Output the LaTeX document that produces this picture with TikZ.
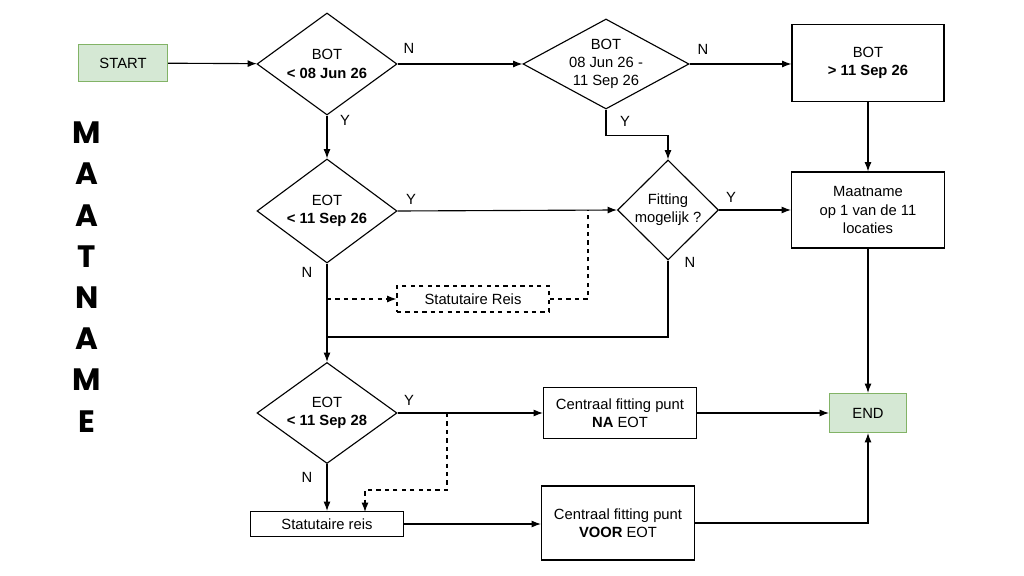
\documentclass[tikz,border=0pt]{standalone}
\usepackage{fontspec}
\setmainfont{Liberation Sans}
\newfontfamily\headfont{Poppins}
\usetikzlibrary{arrows.meta,shapes.geometric,positioning}
\definecolor{TermGreen}{RGB}{213,232,212}
\definecolor{TermEdge}{RGB}{130,179,102}

\begin{document}
\begin{tikzpicture}[x=0.025cm,y=-0.025cm,>=Latex,
  font=\fontsize{10.5}{13}\selectfont,
  box/.style={draw,line width=0.8pt,align=center,inner sep=2pt},
  term/.style={box,fill=TermGreen,draw=TermEdge},
  choice/.style={draw,diamond,line width=0.8pt,align=center,inner sep=-8pt},
  flow/.style={->,line width=0.8pt},
  side/.style={line width=0.8pt,dashed},
  tag/.style={inner sep=1pt}]
  \useasboundingbox (0,0) rectangle (1024,576);

  % title down the left side
  \node[font=\headfont\bfseries\fontsize{22}{29.3}\selectfont,align=center] (title) at (87,277)
    {M\\A\\A\\T\\N\\A\\M\\E};

  % first row
  \node[term,minimum width=2.225cm,minimum height=0.925cm] (start) at (123,63) {START};
  \node[choice,minimum width=3.5cm,minimum height=2.55cm] (botA) at (327,64) {BOT\\\textbf{< 08 Jun 26}};
  \node[choice,aspect=1.8,minimum width=4.15cm,minimum height=2.25cm] (botB) at (606,64) {BOT\\08 Jun 26 -\\11 Sep 26};
  \node[box,minimum width=3.8cm,minimum height=1.925cm] (botC) at (868,63) {BOT\\\textbf{> 11 Sep 26}};

  % second row
  \node[choice,minimum width=3.5cm,minimum height=2.6cm] (eotA) at (327,211) {EOT\\\textbf{< 11 Sep 26}};
  \node[choice,minimum width=2.525cm,minimum height=2.5cm] (fit) at (668,210) {Fitting\\mogelijk ?};
  \node[box,minimum width=3.825cm,minimum height=1.9cm] (loc) at (868,210) {Maatname\\op 1 van de 11\\locaties};
  \node[box,dashed,minimum width=3.8cm,minimum height=0.65cm] (statA) at (473,299) {Statutaire Reis};

  % third row
  \node[choice,minimum width=3.5cm,minimum height=2.525cm] (eotB) at (327,413) {EOT\\\textbf{< 11 Sep 28}};
  \node[box,minimum width=3.825cm,minimum height=1.275cm] (naEot) at (620,413) {Centraal fitting punt\\\textbf{NA} EOT};
  \node[term,minimum width=1.925cm,minimum height=0.975cm] (fin) at (868,413) {END};

  % bottom row
  \node[box,minimum width=3.825cm,minimum height=0.625cm] (statB) at (327,524) {Statutaire reis};
  \node[box,minimum width=3.825cm,minimum height=1.85cm] (voor) at (618,523) {Centraal fitting punt\\\textbf{VOOR} EOT};

  \coordinate (joinA) at (327,299);
  \coordinate (dropA) at (588,210);
  \coordinate (joinB) at (327,337);
  \coordinate (dropB) at (447,413);
  \coordinate (hitB) at (365,512);

  % connectors
  \draw[flow] (start) -- (botA);
  \draw[flow] (botA.east) -- (botB.west);
  \draw[flow] (botB.east) -- (botB.east -| botC.west);
  \draw[flow] (botA.south) -- (eotA.north);
  \draw[flow] (botB.south) -- ++(0,26) -| (fit.north);
  \draw[flow] (botC) -- (loc);
  \draw[flow] (eotA.east) -- (fit.west);
  \draw[flow] (fit.east) -- (fit.east -| loc.west);
  \draw[flow] (eotA.south) -- (eotB.north);
  \draw[side,->] (joinA) -- (statA.west);
  \draw[side] (statA.east) -| (dropA);
  \draw[line width=0.8pt] (fit.south) |- (joinB);
  \draw[flow] (loc) -- (fin);
  \draw[flow] (eotB.east) -- (naEot.west);
  \draw[flow] (naEot) -- (fin);
  \draw[flow] (eotB.south) -- (statB.north);
  \draw[side,->] (dropB) -- ++(0,77) -| (hitB);
  \draw[flow] (statB.east) -- (statB.east -| voor.west);
  \draw[flow] (voor.east) -| (fin.south);

  % branch labels
  \node[tag] (nA) at (409,48) {N};
  \node[tag] (nB) at (703,49) {N};
  \node[tag] (yA) at (345,120) {Y};
  \node[tag] (yB) at (625,121) {Y};
  \node[tag] (yC) at (411,199) {Y};
  \node[tag] (yD) at (731,197) {Y};
  \node[tag] (nC) at (307,272) {N};
  \node[tag] (nD) at (690,262) {N};
  \node[tag] (yE) at (409,400) {Y};
  \node[tag] (nE) at (307,477) {N};
\end{tikzpicture}
\end{document}
